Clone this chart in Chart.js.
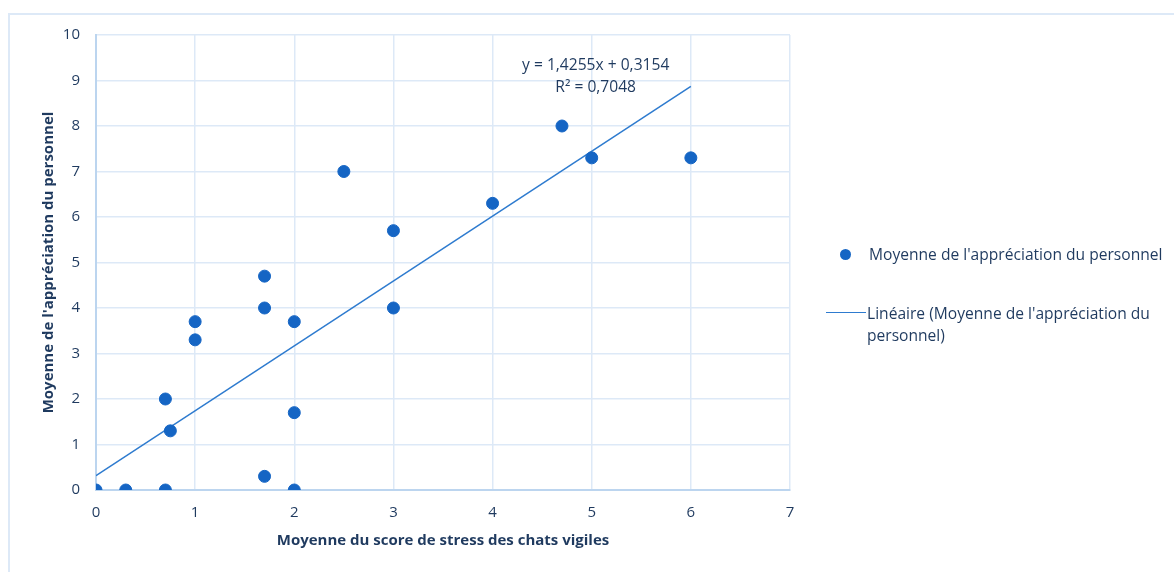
<!DOCTYPE html>
<html>
<head>
<meta charset="utf-8">
<script src="https://cdn.jsdelivr.net/npm/chart.js@4/dist/chart.umd.min.js"></script>
<style>
  body { margin: 0; background: #fff; }
  #wrap { position: relative; width: 1174px; height: 572px; overflow: hidden; }
  #frame { position: absolute; left: 8px; top: 13px; width: 1300px; height: 700px;
           border-left: 2px solid #dde9f7; border-top: 2px solid #dde9f7; }
  canvas { position: absolute; left: 0; top: 0; }
  .legend { position: absolute; font-family: 'Open Sans', sans-serif; font-size: 15.6px;
            color: #1f3a5f; line-height: 22px; white-space: nowrap; }
  .dot { position: absolute; width: 11px; height: 11px; border-radius: 50%; background: #1565c4; }
  .line { position: absolute; width: 40px; height: 0; border-top: 1.5px solid #2e7bcf; }
</style>
</head>
<body>
<div id="wrap">
  <div id="frame"></div>
  <canvas id="chart" width="1174" height="572"></canvas>
  <div class="dot" style="left:840px; top:249px;"></div>
  <div class="legend" style="left:869px; top:243px;">Moyenne de l'appréciation du personnel</div>
  <div class="line" style="left:826px; top:312px;"></div>
  <div class="legend" style="left:867px; top:302px;">Linéaire (Moyenne de l'appréciation du<br>personnel)</div>
</div>
<script>
const stressX = [0, 0.3, 0.7, 0.7, 0.75, 1, 1, 1.7, 1.7, 1.7, 2, 2, 2, 2.5, 3, 3, 4, 4.7, 5, 6];
const appreciationY = [0, 0, 0, 2, 1.3, 3.7, 3.3, 4.7, 4, 0.3, 3.7, 1.7, 0, 7, 5.7, 4, 6.3, 8, 7.3, 7.3];
const slope = 1.4255;
const intercept = 0.3154;
const trendX = [0, 6];
const eqLabels = ['y = 1,4255x + 0,3154', 'R² = 0,7048'];

const textColor = '#1f3a5f';
const gridColor = '#dde9f7';
const axisColor = '#bcd5ef';

const points = stressX.map((x, i) => ({ x: x, y: appreciationY[i] }));
const trend = trendX.map((x) => ({ x: x, y: slope * x + intercept }));

// draws the trendline equation, like Excel does
const equationLabel = {
  id: 'equationLabel',
  afterDatasetsDraw(chart) {
    const ctx = chart.ctx;
    const xs = chart.scales.x;
    const ys = chart.scales.y;
    ctx.save();
    ctx.font = '15.6px "Open Sans"';
    ctx.fillStyle = textColor;
    ctx.textAlign = 'center';
    ctx.textBaseline = 'middle';
    ctx.fillText(eqLabels[0], xs.getPixelForValue(5.04), ys.getPixelForValue(9.32));
    ctx.fillText(eqLabels[1], xs.getPixelForValue(5.04), ys.getPixelForValue(8.84));
    ctx.restore();
  }
};

new Chart(document.getElementById('chart'), {
  type: 'scatter',
  data: {
    datasets: [
      {
        label: "Moyenne de l'appréciation du personnel",
        data: points,
        backgroundColor: '#1565c4',
        borderColor: '#1565c4',
        pointRadius: 6,
        pointHoverRadius: 6
      },
      {
        label: "Linéaire (Moyenne de l'appréciation du personnel)",
        data: trend,
        type: 'line',
        showLine: true,
        borderColor: '#2e7bcf',
        borderWidth: 1.5,
        pointRadius: 0,
        fill: false
      }
    ]
  },
  options: {
    responsive: false,
    animation: false,
    layout: { padding: { left: 36, top: 35, right: 384, bottom: 18 } },
    plugins: {
      legend: { display: false },
      tooltip: { enabled: false }
    },
    scales: {
      x: {
        type: 'linear',
        min: 0,
        max: 7,
        ticks: { stepSize: 1, color: textColor, padding: 14, font: { family: 'Open Sans', size: 15 } },
        grid: { color: gridColor, lineWidth: 1.5, drawTicks: false },
        border: { color: axisColor, width: 2 },
        title: {
          display: true,
          text: 'Moyenne du score de stress des chats vigiles',
          color: textColor,
          padding: { top: 6 },
          font: { family: 'Open Sans', size: 15, weight: 'bold' }
        },
        afterFit: (scale) => { scale.height = 64; }
      },
      y: {
        min: 0,
        max: 10,
        ticks: { stepSize: 1, color: textColor, padding: 16, font: { family: 'Open Sans', size: 15 } },
        grid: { color: gridColor, lineWidth: 1.5, drawTicks: false },
        border: { color: axisColor, width: 2 },
        title: {
          display: true,
          text: "Moyenne de l'appréciation du personnel",
          color: textColor,
          padding: { bottom: 0 },
          font: { family: 'Open Sans', size: 15, weight: 'bold' }
        },
        afterFit: (scale) => { scale.width = 60; }
      }
    }
  },
  plugins: [equationLabel]
});
</script>
</body>
</html>
